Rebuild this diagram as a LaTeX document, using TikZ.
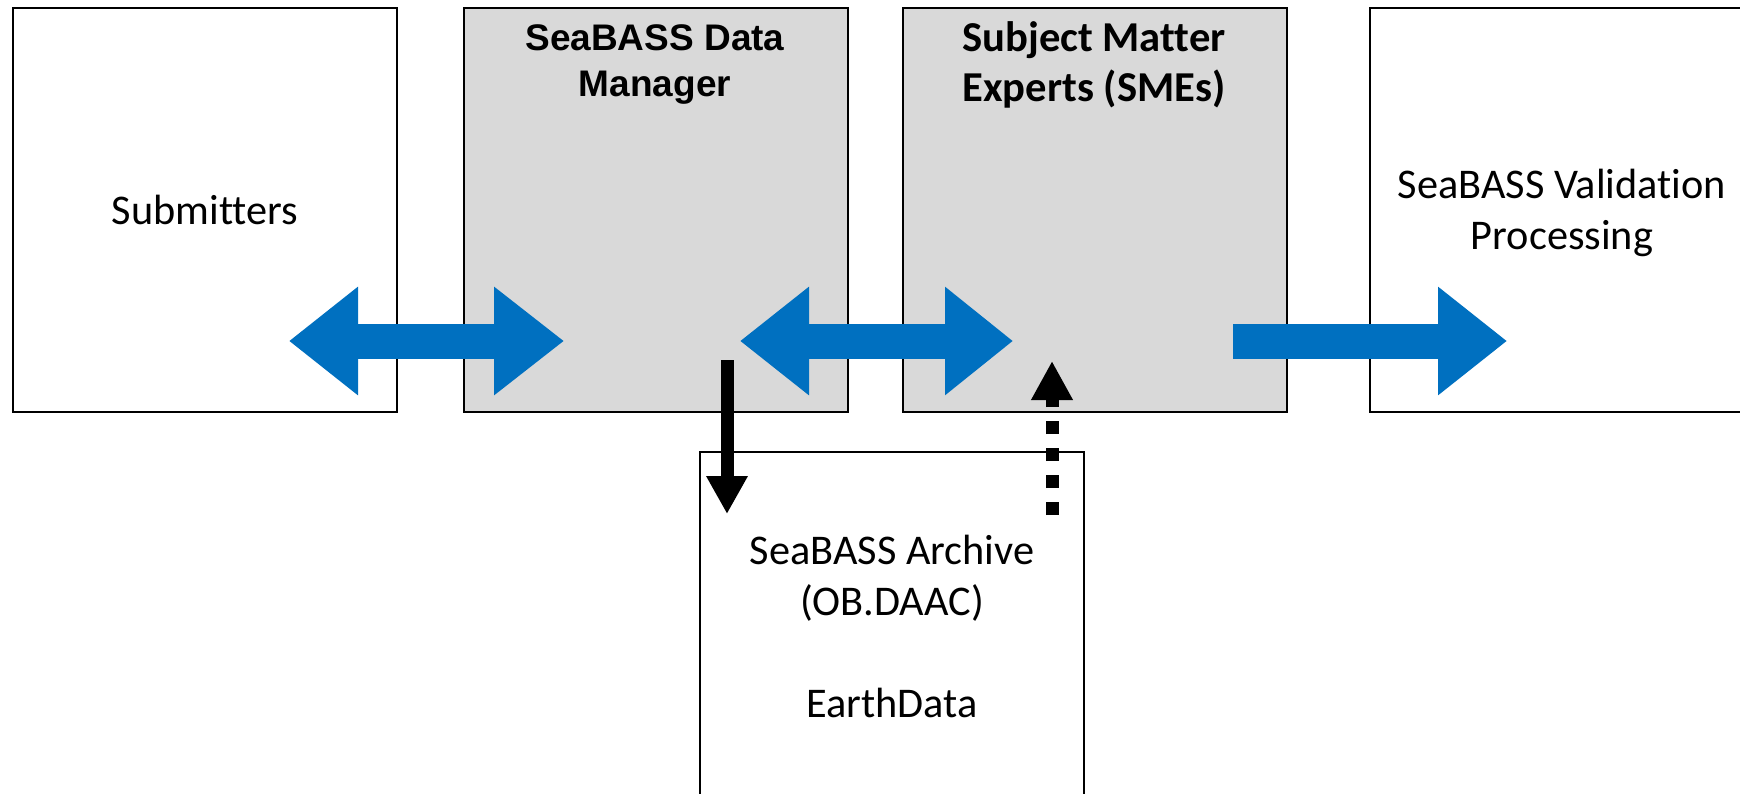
\documentclass[tikz,border=0pt]{standalone}
\usepackage{fontspec}
\setmainfont{Carlito}[Ligatures={NoCommon}]
\newfontfamily\arialf{Liberation Sans}
\usetikzlibrary{arrows.meta}
\definecolor{bluearr}{HTML}{0070C0}
\definecolor{greybox}{HTML}{D9D9D9}
\newcommand\regf{\fontsize{42.3pt}{51pt}\selectfont}
\newcommand\dmf{\arialf\bfseries\fontsize{37pt}{46pt}\selectfont}
\newcommand\smef{\bfseries\fontsize{42.6pt}{50pt}\selectfont}
\begin{document}
\begin{tikzpicture}[x=1pt,y=-1pt,
  box/.style={draw=black,line width=2pt,minimum width=384pt,minimum height=404pt,inner sep=0pt},
  greyed/.style={box,fill=greybox},
  lbl/.style={inner sep=0pt,align=center,anchor=base},
  blockarrow/.style={bluearr,line width=35pt},
  blackarrow/.style={black,line width=13pt}]
\useasboundingbox (0,0) rectangle (1740,794);
\fill[white] (0,0) rectangle (1740,794);
\clip (0,0) rectangle (1740,794);
% boxes
\node[box]    (sub) at (205,210) {};
\node[greyed] (dm)  at (655.5,210) {};
\node[greyed] (sme) at (1095,210) {};
\node[box]    (val) at (1562,210) {};
\node[box]    (arc) at (892,654) {};
% texts (base anchor = baseline of last line)
\node[lbl,font=\regf] (subt) at (205,225) {Submitters};
\node[lbl,font=\regf] (valt) at (1562,250) {SeaBASS Validation\\Processing};
\node[lbl,font=\dmf]  (dmt)  at (655,97) {SeaBASS Data\\Manager};
\node[lbl,font=\smef] (smet) at (1094,102) {Subject Matter\\Experts (SMEs)};
\node[lbl,font=\regf] (arct) at (892,717) {SeaBASS Archive\\(OB.DAAC)\\[51pt]EarthData};
% arrow end points
\coordinate (a1l) at (289,341);
\coordinate (a1r) at (564,341);
\coordinate (a2l) at (740,341);
\coordinate (a2r) at (1013,341);
\coordinate (a3l) at (1233,341);
\coordinate (a3r) at (1507,341);
\coordinate (dmout) at (727,360);
\coordinate (arcin) at (727,514);
\coordinate (arcout) at (1052,515);
\coordinate (smein) at (1052,361);
% connectors
\draw[blockarrow,{Triangle[length=69pt,width=104pt]}-{Triangle[length=70pt,width=104pt]}] (a1l) -- (a1r);
\draw[blockarrow,{Triangle[length=69pt,width=104pt]}-{Triangle[length=68pt,width=104pt]}] (a2l) -- (a2r);
\draw[blockarrow,-{Triangle[length=69pt,width=104pt]}] (a3l) -- (a3r);
\draw[blackarrow,-{Triangle[length=38pt,width=39pt]}] (dmout) -- (arcin);
\draw[blackarrow,dash pattern=on 13pt off 14pt,-{Triangle[length=39pt,width=39pt]}] (arcout) -- (smein);
\end{tikzpicture}
\end{document}
